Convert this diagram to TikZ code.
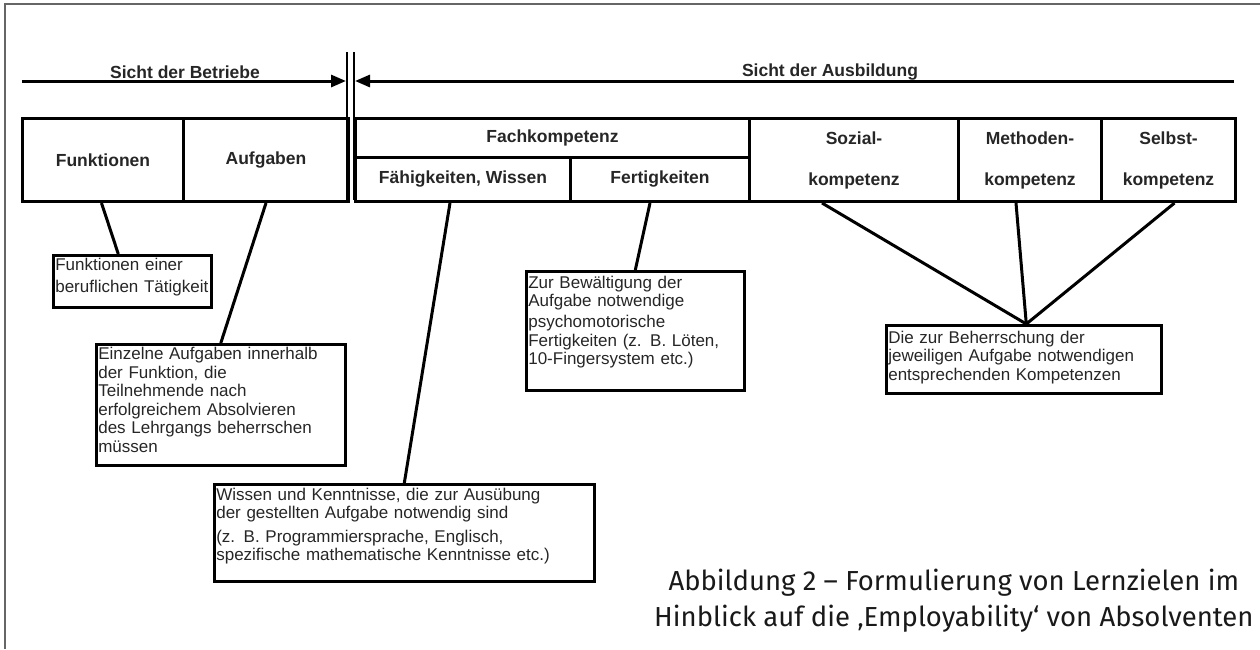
\documentclass[tikz,border=0pt]{standalone}
\usepackage{fontspec}
\setmainfont{Liberation Sans}
\newfontfamily\captionfont{Fira Sans}
\usetikzlibrary{arrows.meta}

\begin{document}
\begin{tikzpicture}[x=1pt,y=-1pt,>={Triangle[length=15pt,width=12pt]},
    cell/.style={draw,line width=3pt,anchor=north west,inner sep=0pt,
      text=black!85,font=\bfseries\fontsize{17.5}{21}\selectfont},
    twoline/.style={align=center,font=\bfseries\fontsize{17.5}{41}\selectfont},
    note/.style={draw,line width=2.6pt,anchor=north west,inner sep=2pt,
      align=left,text=black!85,font=\fontsize{17}{18.5}\selectfont},
    link/.style={line width=3pt}]
    \useasboundingbox (0,0) rectangle (1260,649);
    \draw[black!60,line width=1.5pt] (1260,4) -- (5,4) -- (5,649);

    % the two views
    \coordinate (divLtop) at (347,52);
    \coordinate (divLbot) at (347,200);
    \coordinate (divRtop) at (354,52);
    \coordinate (divRbot) at (354,200);
    \draw[line width=2.8pt] (divLtop) -- (divLbot);
    \draw[line width=2.8pt] (divRtop) -- (divRbot);

    \coordinate (betrStart) at (22,81);
    \coordinate (betrEnd) at (346,81);
    \coordinate (ausbStart) at (1234,81);
    \coordinate (ausbEnd) at (355,81);
    \draw[->,line width=3pt] (betrStart) -- (betrEnd);
    \draw[->,line width=3pt] (ausbStart) -- (ausbEnd);
    \node[text=black!85,font=\bfseries\fontsize{17.5}{21}\selectfont] (betriebe) at (185,72) {Sicht der Betriebe};
    \node[text=black!85,font=\bfseries\fontsize{17.5}{21}\selectfont] (ausbildung) at (830,72) {Sicht der Ausbildung};

    % table row
    \node[cell,minimum width=161pt,minimum height=83pt] (fkt) at (21,117) {Funktionen};
    \node[cell,minimum width=165pt,minimum height=83pt] (aufg) at (182,117) {Aufgaben};
    \node[cell,minimum width=394pt,minimum height=39pt] (fach) at (354,117) {Fachkompetenz};
    \node[cell,minimum width=215pt,minimum height=44pt] (faeh) at (354,156) {Fähigkeiten, Wissen};
    \node[cell,minimum width=179pt,minimum height=44pt] (fert) at (569,156) {Fertigkeiten};
    \node[cell,twoline,minimum width=209pt,minimum height=83pt] (sozial) at (748,117) {Sozial-\\kompetenz};
    \node[cell,twoline,minimum width=143pt,minimum height=83pt] (methode) at (957,117) {Methoden-\\kompetenz};
    \node[cell,twoline,minimum width=134pt,minimum height=83pt] (selbst) at (1100,117) {Selbst-\\kompetenz};

    % explanations
    \node[note,text width=154pt,text height=13.5pt,text depth=34.5pt] (fktnote) at (52,254)
        {Funktionen einer\\[3.5pt]beruflichen Tätigkeit};
    \node[note,text width=245pt,text height=13.5pt,text depth=103.5pt] (aufgnote) at (95,343)
        {Einzelne Aufgaben innerhalb\\der Funktion, die\\Teilnehmende nach\\erfolgreichem Absolvieren\\des Lehrgangs beherrschen\\müssen};
    \node[note,text width=376pt,text height=14pt,text depth=79pt] (faehnote) at (213,483)
        {Wissen und Kenntnisse, die zur Ausübung\\der gestellten Aufgabe notwendig sind\\[5pt](z. B. Programmiersprache, Englisch,\\spezifische mathematische Kenntnisse etc.)};
    \node[note,text width=214pt,text height=15pt,text depth=100pt] (fertnote) at (525,270)
        {Zur Bewältigung der\\Aufgabe notwendige\\[2.5pt]psychomotorische\\Fertigkeiten (z. B. Löten,\\10-Fingersystem etc.)};
    \node[note,text width=271pt,text height=16pt,text depth=48pt] (kompnote) at (885,324)
        {Die zur Beherrschung der\\jeweiligen Aufgabe notwendigen\\entsprechenden Kompetenzen};

    \draw[link] ([xshift=-1.5pt]fkt.south) -- ([xshift=-14pt]fktnote.north);
    \draw[link] (aufg.south) -- (aufgnote.north);
    \draw[link] ([xshift=-13pt]faeh.south) -- (faehnote.north);
    \draw[link] ([xshift=-10pt]fert.south) -- (fertnote.north);
    \draw[link] ([xshift=-32pt]sozial.south) -- ([xshift=2.5pt]kompnote.north);
    \draw[link] ([xshift=-14pt]methode.south) -- ([xshift=2.5pt]kompnote.north);
    \draw[link] ([xshift=6pt]selbst.south) -- ([xshift=2.5pt]kompnote.north);

    \node[anchor=east,align=center,text=black!90,font=\captionfont\fontsize{27.5}{36}\selectfont] (caption) at (1257,601)
        {Abbildung 2 – Formulierung von Lernzielen im\\Hinblick auf die ‚Employability‘ von Absolventen};
\end{tikzpicture}
\end{document}
